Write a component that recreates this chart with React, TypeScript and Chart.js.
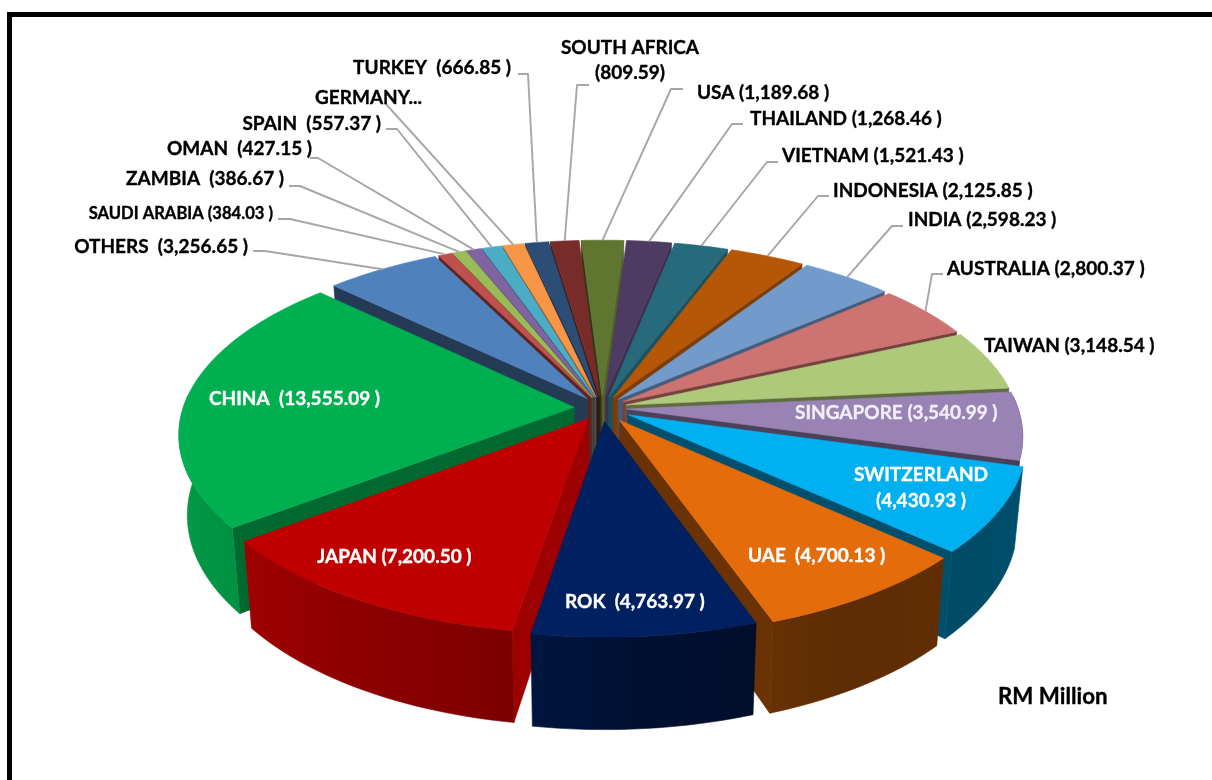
import React, { useEffect, useRef } from "react";
import { Chart, registerables } from "chart.js";

Chart.register(...registerables);

const categories = ["Saudi Arabia","Zambia","Oman","Spain","Germany","Turkey","South Africa","USA","Thailand","Vietnam","Indonesia","India","Australia","Taiwan","Singapore","Switzerland","UAE","ROK","Japan","China","Others"];
const values = [384.03,386.67,427.15,557.37,600,666.85,809.59,1189.68,1268.46,1521.43,2125.85,2598.23,2800.37,3148.54,3540.99,4430.93,4700.13,4763.97,7200.5,13555.09,3256.65];
const colors = ["#C0504D","#9BBB59","#8064A2","#4BACC6","#F79646","#2C4D75","#772C2A","#5F7530","#4D3B62","#276A7C","#B65708","#729ACA","#CD7371","#AFC97A","#9983B5","#00B0F0","#E46C0A","#002060","#C00000","#00B050","#4F81BD"];
const labelLines = [
  ["SAUDI ARABIA (384.03 )"],["ZAMBIA  (386.67 )"],["OMAN  (427.15 )"],["SPAIN  (557.37 )"],["GERMANY..."],["TURKEY  (666.85 )"],
  ["SOUTH AFRICA","(809.59)"],["USA (1,189.68 )"],["THAILAND (1,268.46 )"],["VIETNAM (1,521.43 )"],["INDONESIA (2,125.85 )"],["INDIA (2,598.23 )"],
  ["AUSTRALIA (2,800.37 )"],["TAIWAN (3,148.54 )"],["SINGAPORE (3,540.99 )"],["SWITZERLAND","(4,430.93 )"],["UAE  (4,700.13 )"],["ROK  (4,763.97 )"],
  ["JAPAN (7,200.50 )"],["CHINA  (13,555.09 )"],["OTHERS  (3,256.65 )"],
];
const unitLabel = "RM Million";

// ---- layout / style, separate from the data ----
const START_DEG = 333.5;
const CX = 602, CY = 408, AX = 416, BY = 193, PERSP = 0.15, RIM = 0.94, DEPTH = 78.5, BOTTOM_X = 0.98;
const DEFAULT_EXPLODE = 0.06;
const explodeByCategory: Record<string, number> = { China: 0.067, ROK: 0.068, UAE: 0.075, Switzerland: 0.072, Japan: 0.064 };
const FONT = "Lato, sans-serif";
const BASE_SIZE = 19;
type L = { x: number; ys: number[]; a: CanvasTextAlign; size?: number; c?: string; lead?: number[][] };
const layout: L[] = [
  { x: 273, ys: [214], a: "right", size: 16.6, lead: [[278,219],[290,219]] },
  { x: 284, ys: [179], a: "right", lead: [[289,186],[300,186]] },
  { x: 312, ys: [149], a: "right", lead: [[310,158],[318,158]] },
  { x: 381, ys: [124], a: "right", lead: [[386,129],[397,129]] },
  { x: 315, ys: [98], a: "left", lead: [[385,103]] },
  { x: 511, ys: [68], a: "right", lead: [[518,74],[528,74]] },
  { x: 630, ys: [48,73], a: "center", lead: [[589,85],[577,85]] },
  { x: 697, ys: [93], a: "left", lead: [[683,89],[671,89]] },
  { x: 750, ys: [119], a: "left", lead: [[743,124],[732,124]] },
  { x: 782, ys: [156], a: "left", lead: [[778,162],[767,162]] },
  { x: 833, ys: [191], a: "left", lead: [[829,196],[818,196]] },
  { x: 908, ys: [220], a: "left", lead: [[903,226],[892,226]] },
  { x: 947, ys: [269], a: "left", lead: [[943,274],[932,274]] },
  { x: 984, ys: [346], a: "left" },
  { x: 795, ys: [413], a: "left", c: "#F0EEF4" },
  { x: 921, ys: [475,501], a: "center", c: "#FFFFFF" },
  { x: 748, ys: [556], a: "left", c: "#FFFFFF" },
  { x: 565, ys: [602], a: "left", c: "#FFFFFF" },
  { x: 317, ys: [557], a: "left", c: "#FFFFFF" },
  { x: 209, ys: [399], a: "left", c: "#FFFFFF" },
  { x: 248, ys: [247], a: "right", lead: [[253,251],[265,251]] },
];

const OUTER_RAMP = [[0,.5],[100,.46],[150,.41],[175,.5],[190,.65],[232,.83],[270,.9],[360,.6]];
const RADIAL_RAMP = [[0,.45],[90,.87],[140,.6],[220,.45],[260,.47],[360,.45]];

function ramp(t: number[][], deg: number) {
  const d = ((deg % 360) + 360) % 360;
  for (let i = 1; i < t.length; i++) {
    if (d <= t[i][0]) {
      const k = (d - t[i - 1][0]) / (t[i][0] - t[i - 1][0]);
      return t[i - 1][1] + (t[i][1] - t[i - 1][1]) * k;
    }
  }
  return t[t.length - 1][1];
}
function shade(hex: string, f: number) {
  const n = parseInt(hex.slice(1), 16);
  return `rgb(${Math.round(((n >> 16) & 255) * f)},${Math.round(((n >> 8) & 255) * f)},${Math.round((n & 255) * f)})`;
}
// ground plane (unit pie, +Y toward the viewer) to screen
function proj(X: number, Y: number) {
  const s = 1 / (1 - PERSP * Y);
  return { x: CX + X * AX * s, y: CY + Y * BY * s, s };
}
function low(p: { x: number; y: number; s: number }) {
  return { x: CX + (p.x - CX) * BOTTOM_X, y: p.y + DEPTH * p.s };
}
function poly(ctx: CanvasRenderingContext2D, pts: { x: number; y: number }[], fill: string | CanvasGradient) {
  ctx.beginPath();
  pts.forEach((p, i) => (i ? ctx.lineTo(p.x, p.y) : ctx.moveTo(p.x, p.y)));
  ctx.closePath();
  ctx.fillStyle = fill;
  ctx.strokeStyle = fill;
  ctx.lineWidth = 0.6;
  ctx.fill();
  ctx.stroke();
}

const pie3d = {
  id: "pie3d",
  beforeDraw(chart: any) {
    const ctx = chart.ctx as CanvasRenderingContext2D;
    ctx.save();
    ctx.fillStyle = "#fff";
    ctx.fillRect(0, 0, chart.width, chart.height);
    ctx.fillStyle = "#000";
    ctx.fillRect(7, 12, chart.width, 5);
    ctx.fillRect(7, 12, 5, chart.height);
    ctx.restore();
  },
  beforeDatasetDraw() {
    return false; // the arcs are painted in 3D below from the same elements
  },
  afterDatasetsDraw(chart: any) {
    const ctx = chart.ctx as CanvasRenderingContext2D;
    const arcs = chart.getDatasetMeta(0).data;
    const slices = arcs.map((el: any, i: number) => {
      const p = el.getProps(["startAngle", "endAngle"], true);
      const a0 = p.startAngle + Math.PI / 2;
      const a1 = p.endAngle + Math.PI / 2;
      const mid = (a0 + a1) / 2;
      const ex = explodeByCategory[categories[i]] ?? DEFAULT_EXPLODE;
      const ox = ex * Math.sin(mid), oy = -ex * Math.cos(mid);
      const at = (a: number, r = RIM) => proj(ox + r * Math.sin(a), oy - r * Math.cos(a));
      return { i, a0, a1, mid, at, depthKey: oy - 0.6 * Math.cos(mid) };
    });
    ctx.save();
    [...slices].sort((u: any, v: any) => u.depthKey - v.depthKey).forEach((s: any) => {
      const col = colors[s.i];
      const apex = s.at(0, 0);
      const deg = (r: number) => (r * 180) / Math.PI;
      const e0 = s.at(s.a0), e1 = s.at(s.a1);
      const n0 = s.a0 - Math.PI / 2, n1 = s.a1 + Math.PI / 2;
      if (-Math.cos(n0) > 0) poly(ctx, [apex, e0, low(e0), low(apex)], shade(col, ramp(RADIAL_RAMP, deg(n0))));
      if (-Math.cos(n1) > 0) poly(ctx, [apex, e1, low(e1), low(apex)], shade(col, ramp(RADIAL_RAMP, deg(n1))));
      const n = Math.max(2, Math.ceil(deg(s.a1 - s.a0) / 1.5));
      const rim: any[] = [];
      for (let k = 0; k <= n; k++) rim.push(s.at(s.a0 + ((s.a1 - s.a0) * k) / n));
      const xs = rim.map((r) => r.x);
      const minX = Math.min(...xs) - 1, maxX = Math.max(...xs) + 1;
      const g = ctx.createLinearGradient(minX, 0, maxX, 0);
      let anyFront = false;
      rim.forEach((r, k) => {
        const d = ((deg(s.a0 + ((s.a1 - s.a0) * k) / n) % 360) + 360) % 360;
        if (d >= 90 && d <= 270) {
          anyFront = true;
          g.addColorStop((r.x - minX) / (maxX - minX), shade(col, ramp(OUTER_RAMP, d)));
        }
      });
      // only the half of the rim that faces the viewer carries a wall
      const front = rim.filter((_, k) => {
        const d = ((deg(s.a0 + ((s.a1 - s.a0) * k) / n) % 360) + 360) % 360;
        return d >= 85 && d <= 275;
      });
      if (anyFront && front.length > 1) poly(ctx, [...front, ...[...front].reverse().map(low)], g);
      poly(ctx, [apex, ...rim], col);
    });

    // leader lines end on the rim of their slice
    ctx.strokeStyle = "#A6A6A6";
    ctx.lineWidth = 1.9;
    ctx.lineJoin = "round";
    slices.forEach((s: any) => {
      const lead = layout[s.i].lead;
      if (!lead) return;
      const end = s.at(s.mid);
      ctx.beginPath();
      lead.forEach((p, k) => (k ? ctx.lineTo(p[0], p[1]) : ctx.moveTo(p[0], p[1])));
      ctx.lineTo(end.x, end.y);
      ctx.stroke();
    });

    const text = (t: string, x: number, y: number, a: CanvasTextAlign, size: number, c: string) => {
      ctx.font = `bold ${size}px ${FONT}`;
      ctx.textAlign = a;
      ctx.textBaseline = "middle";
      ctx.fillStyle = c;
      ctx.strokeStyle = c;
      ctx.lineWidth = 0.35;
      ctx.fillText(t, x, y);
      ctx.strokeText(t, x, y);
    };
    layout.forEach((l, i) => {
      labelLines[i].forEach((t, k) => text(t, l.x, l.ys[k], l.a, l.size ?? BASE_SIZE, l.c ?? "#000"));
    });
    text(unitLabel, 998, 697, "left", 22.3, "#000");
    ctx.restore();
  },
};

export default function App() {
  const ref = useRef<HTMLCanvasElement>(null);
  useEffect(() => {
    const chart = new Chart(ref.current!, {
      type: "pie",
      data: { labels: categories, datasets: [{ data: values, backgroundColor: colors, borderWidth: 0 }] },
      options: {
        animation: false,
        responsive: false,
        rotation: START_DEG,
        plugins: { legend: { display: false }, tooltip: { enabled: false } },
      },
      plugins: [pie3d],
    } as any);
    return () => chart.destroy();
  }, []);
  return <canvas ref={ref} width={1212} height={780} style={{ position: "fixed", left: 0, top: 0, width: 1212, height: 780 }} />;
}
